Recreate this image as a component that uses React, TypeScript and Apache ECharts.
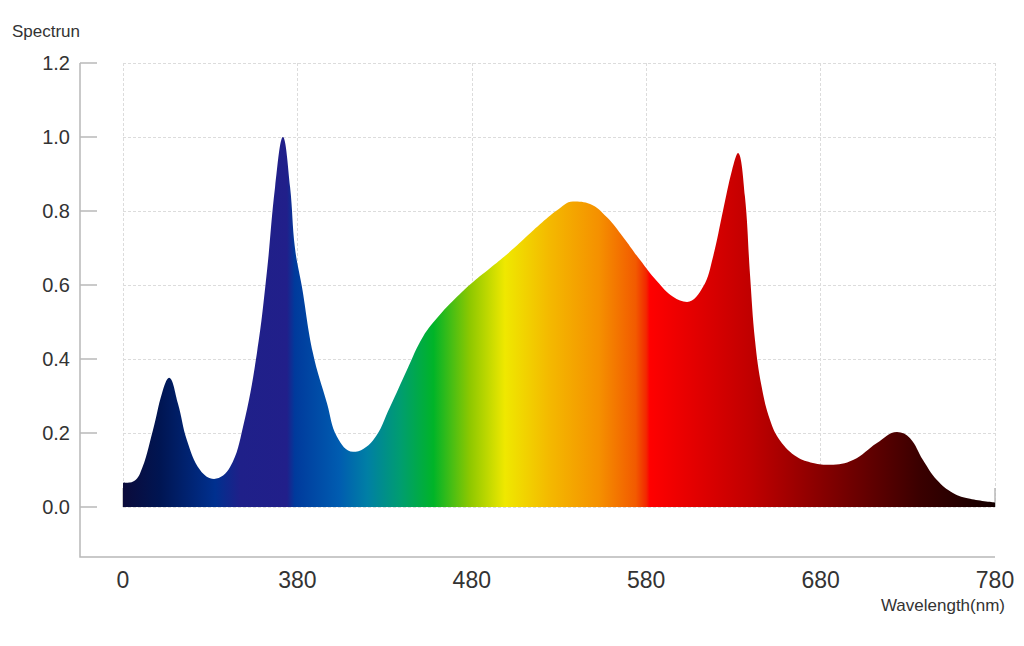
import React, { useEffect, useRef } from "react";
import * as echarts from "echarts";

// Wavelength (nm) sample points and relative spectral values
const wavelengths = [
  280, 284, 289.7, 297.2, 302.4, 306.4, 311.5, 316.7, 324.2, 332.2, 341.4, 348.8, 356.8, 362.6,
  367.2, 371.7, 375.8, 378.6, 382.6, 388.9, 397.0, 402.7, 411.9, 423.3, 433.1, 442.8, 452.0,
  461.8, 471.5, 480.7, 490.4, 500.2, 509.4, 519.1, 528.9, 538.0, 547.8, 557.5, 566.7, 576.4,
  586.2, 595.4, 603.4, 612.6, 618.3, 624.0, 629.2, 632.6, 636.6, 639.5, 642.4, 646.2, 651.0,
  656.7, 666.5, 675.6, 685.4, 698.6, 712.3, 723.8, 731.3, 738.7, 746.7, 755.9, 765.7, 780,
];
const spectrum = [
  0.065, 0.066, 0.09, 0.208, 0.308, 0.349, 0.28, 0.18, 0.1, 0.076, 0.108, 0.216, 0.416, 0.64,
  0.865, 1.0, 0.865, 0.7, 0.595, 0.416, 0.28, 0.19, 0.149, 0.18, 0.27, 0.37, 0.46,
  0.52, 0.568, 0.608, 0.645, 0.683, 0.722, 0.764, 0.802, 0.826, 0.819, 0.783, 0.73, 0.668,
  0.61, 0.568, 0.554, 0.595, 0.676, 0.8, 0.91, 0.957, 0.84, 0.63, 0.45, 0.325, 0.235,
  0.18, 0.135, 0.119, 0.114, 0.127, 0.173, 0.203, 0.186, 0.127, 0.073, 0.038, 0.022, 0.012,
];

// Axis settings
const xMin = 280;
const xMax = 780;
const xStep = 100;
const yMin = 0;
const yMax = 1.2;
const yStep = 0.2;
const xName = "Wavelength(nm)";
const yName = "Spectrun";

// Fill colour stops by wavelength (nm)
const stopWavelengths = [280, 301, 333, 347, 374, 378.5, 404, 420, 439, 458, 479, 499, 525, 553, 574, 580, 582, 640, 697, 737, 780];
const stopColors = [
  "#0b0b3b", "#001552", "#00308f", "#1f2089", "#211f8a", "#003a9c", "#005cb0", "#007fa5",
  "#009d70", "#00b428", "#8ec800", "#efe800", "#f4b800", "#f59000", "#f25a00", "#f22800",
  "#ff0000", "#c00000", "#700000", "#3a0000", "#140000",
];

export default function App() {
  const ref = useRef<HTMLDivElement>(null);

  useEffect(() => {
    if (!ref.current) return;
    const chart = echarts.init(ref.current, undefined, { renderer: "svg" });
    const fontFamily = "'Liberation Sans', Arial, sans-serif";
    const axisGrey = "#b8b8b8";
    const gradient = new echarts.graphic.LinearGradient(
      0, 0, 1, 0,
      stopWavelengths.map((w, i) => ({ offset: (w - xMin) / (xMax - xMin), color: stopColors[i] }))
    );
    const data = wavelengths.map((w, i) => [w, spectrum[i]]);

    chart.setOption({
      animation: false,
      backgroundColor: "#ffffff",
      title: {
        text: xName,
        right: 19,
        top: 597,
        padding: 0,
        textStyle: { fontFamily, fontSize: 17, fontWeight: "normal", color: "#333" },
      },
      grid: { left: 123, right: 29, top: 63, bottom: 139, containLabel: false, outerBoundsMode: "none" },
      xAxis: {
        type: "value",
        min: xMin,
        max: xMax,
        interval: xStep,
        offset: 50,
        axisLine: { show: false },
        axisTick: { show: true, inside: true, length: 19, lineStyle: { color: axisGrey, width: 1.5 } },
        axisLabel: {
          margin: 11,
          fontFamily,
          fontSize: 23,
          color: "#333",
          formatter: (v: number) => (v === xMin ? "0" : String(v)),
        },
        splitLine: { show: true, lineStyle: { color: "#dcdcdc", type: [3, 2], width: 1 } },
      },
      yAxis: {
        type: "value",
        min: yMin,
        max: yMax,
        interval: yStep,
        offset: 43,
        name: yName,
        nameLocation: "end",
        nameGap: 23,
        nameTextStyle: {
          fontFamily,
          fontSize: 17,
          color: "#333",
          align: "right",
          verticalAlign: "bottom",
        },
        axisLine: { show: false },
        axisTick: { show: true, inside: true, length: 17, lineStyle: { color: axisGrey, width: 1.5 } },
        axisLabel: {
          margin: 10,
          fontFamily,
          fontSize: 20,
          color: "#333",
          formatter: (v: number) => v.toFixed(1),
        },
        splitLine: { show: true, lineStyle: { color: "#dcdcdc", type: [3, 2], width: 1 } },
      },
      graphic: [
        {
          type: "polyline",
          silent: true,
          shape: { points: [[80, 63], [80, 557], [995, 557]] },
          style: { stroke: axisGrey, lineWidth: 1.5, fill: null },
        },
      ],
      series: [
        {
          type: "line",
          data,
          smooth: 0.4,
          showSymbol: false,
          symbol: "none",
          lineStyle: { width: 0, opacity: 0 },
          areaStyle: { color: gradient, opacity: 1 },
        },
      ],
    });

    return () => chart.dispose();
  }, []);

  return (
    <div
      ref={ref}
      style={{ position: "fixed", left: 0, top: 0, width: 1024, height: 646, background: "#fff" }}
    />
  );
}
